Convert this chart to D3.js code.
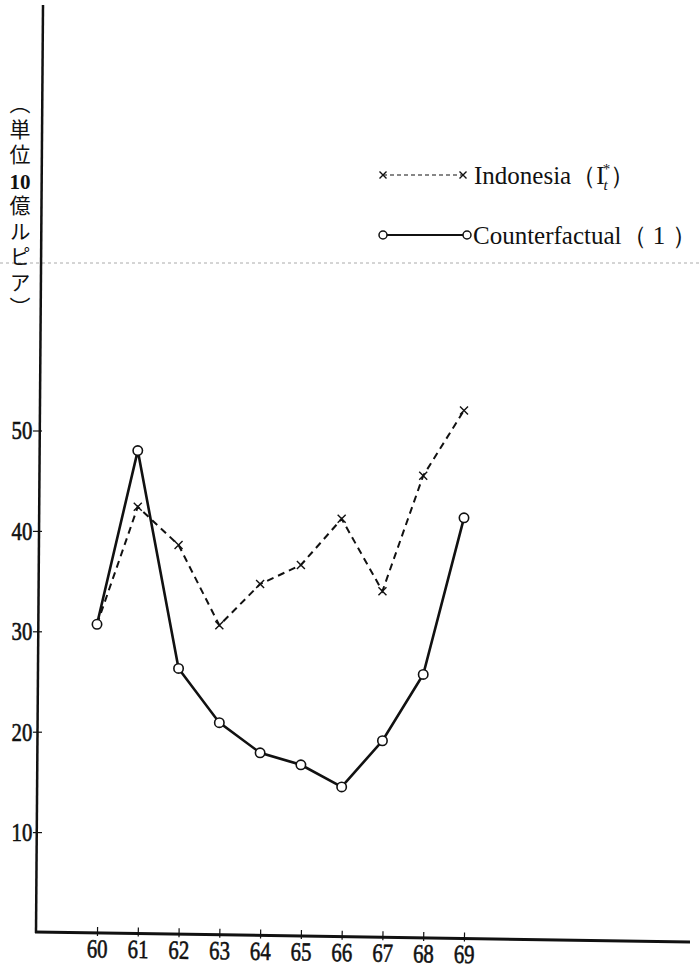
<!DOCTYPE html>
<html lang="ja">
<head>
<meta charset="UTF-8" />
<title>Indonesia / Counterfactual</title>
<script src="https://d3js.org/d3.v7.min.js"></script>
<style>
  body { margin: 0; background: #fff; }
  svg { display: block; }
  .tick text { font-family: 'Liberation Serif', serif; font-size: 26px; fill: #111; stroke: #111; stroke-width: 0.6; }
  .legend text { font-family: 'Liberation Serif', serif; font-size: 25px; fill: #111; }
  .ylabel { font-family: 'Noto Sans CJK JP', sans-serif; font-size: 21px; fill: #111; writing-mode: vertical-rl; letter-spacing: 4.5px; }
  .ylabel-num { font-family: 'Liberation Serif', serif; font-size: 21px; font-weight: bold; fill: #111; }
</style>
</head>
<body>
<svg width="700" height="970"></svg>
<script>
// data
const years = [60, 61, 62, 63, 64, 65, 66, 67, 68, 69];
const indonesia = [30.7, 42.4, 38.6, 30.6, 34.7, 36.6, 41.2, 34.0, 45.5, 52.0];
const counterfactual = [30.7, 48.0, 26.3, 20.9, 17.9, 16.7, 14.5, 19.1, 25.7, 41.3];
const yTicks = [10, 20, 30, 40, 50];
const yLabelTop = "︵単位";
const yLabelNum = "10";
const yLabelBottom = "億ルピア︶";

const svg = d3.select("svg");

const x = d3.scaleLinear().domain([60, 69]).range([97, 464]);
const y = d3.scaleLinear().domain([0, 50]).range([932.5, 430.5]);

// faint scan line across the page
svg.append("line")
  .attr("x1", 0).attr("x2", 700).attr("y1", 263).attr("y2", 263)
  .attr("stroke", "#aaa").attr("stroke-width", 1).attr("stroke-dasharray", "3,3");

// axes (the printed axes are slightly slanted)
svg.append("line")
  .attr("x1", 43).attr("y1", 5).attr("x2", 36).attr("y2", 933)
  .attr("stroke", "#111").attr("stroke-width", 2.5);
svg.append("line")
  .attr("x1", 35).attr("y1", 932).attr("x2", 690).attr("y2", 942)
  .attr("stroke", "#111").attr("stroke-width", 3);

const yAxis = svg.append("g")
  .attr("transform", "translate(38,0)")
  .call(d3.axisLeft(y).tickValues(yTicks).tickSize(5).tickPadding(3))
  .call(g => g.select(".domain").remove());
yAxis.selectAll(".tick line").attr("x1", 4).attr("stroke", "#111").attr("stroke-width", 1.2);
yAxis.selectAll(".tick text").attr("x", -7).attr("transform", "scale(0.8,1)");

const xAxis = svg.append("g")
  .attr("transform", "translate(0,932) rotate(0.87,35,0)")
  .call(d3.axisBottom(x).tickValues(years).tickSize(3).tickPadding(3).tickFormat(d3.format("d")))
  .call(g => g.select(".domain").remove());
xAxis.selectAll(".tick line").attr("y1", -6).attr("stroke", "#111").attr("stroke-width", 1.2);
xAxis.selectAll(".tick text").attr("transform", "scale(0.8,1)");

// vertical unit label
svg.append("text").attr("class", "ylabel").attr("x", 20).attr("y", 93).text(yLabelTop);
svg.append("text").attr("class", "ylabel-num").attr("x", 20).attr("y", 189)
  .attr("text-anchor", "middle").text(yLabelNum);
svg.append("text").attr("class", "ylabel").attr("x", 20).attr("y", 195).text(yLabelBottom);

// lines
const line = d3.line().x((d, i) => x(years[i])).y(d => y(d));

svg.append("path")
  .datum(indonesia)
  .attr("d", line)
  .attr("fill", "none")
  .attr("stroke", "#111")
  .attr("stroke-width", 2)
  .attr("stroke-dasharray", "7,5");

svg.append("path")
  .datum(counterfactual)
  .attr("d", line)
  .attr("fill", "none")
  .attr("stroke", "#111")
  .attr("stroke-width", 2.6);

function cross(g, cx, cy, s) {
  g.append("path")
    .attr("d", `M${cx - s},${cy - s}L${cx + s},${cy + s}M${cx - s},${cy + s}L${cx + s},${cy - s}`)
    .attr("stroke", "#111").attr("stroke-width", 1.4).attr("fill", "none");
}

const marks = svg.append("g");
indonesia.forEach((v, i) => { if (i > 0) cross(marks, x(years[i]), y(v), 4); });

svg.selectAll("circle.cf")
  .data(counterfactual)
  .enter()
  .append("circle")
  .attr("class", "cf")
  .attr("cx", (d, i) => x(years[i]))
  .attr("cy", d => y(d))
  .attr("r", 4.7)
  .attr("fill", "#fff")
  .attr("stroke", "#111")
  .attr("stroke-width", 1.6);

// legend
const lg = svg.append("g").attr("class", "legend");
lg.append("line").attr("x1", 383).attr("x2", 463).attr("y1", 175).attr("y2", 175)
  .attr("stroke", "#111").attr("stroke-width", 1.2).attr("stroke-dasharray", "4,3");
cross(lg, 383, 175, 3.5);
cross(lg, 463, 175, 3.5);
const t1 = lg.append("text").attr("x", 474).attr("y", 184);
t1.append("tspan").text("Indonesia（");
t1.append("tspan").text("I");
t1.append("tspan").attr("dx", -1).attr("dy", 6).style("font-size", "15px").style("font-style", "italic").text("t");
t1.append("tspan").attr("dx", -5).attr("dy", -16).style("font-size", "15px").text("*");
t1.append("tspan").attr("dy", 10).text("）");

lg.append("line").attr("x1", 383).attr("x2", 467).attr("y1", 235).attr("y2", 235)
  .attr("stroke", "#111").attr("stroke-width", 2);
[383, 467].forEach(cx => lg.append("circle").attr("cx", cx).attr("cy", 235).attr("r", 4)
  .attr("fill", "#fff").attr("stroke", "#111").attr("stroke-width", 1.5));
lg.append("text").attr("x", 473).attr("y", 244).text("Counterfactual（ 1 ）");
</script>
</body>
</html>
